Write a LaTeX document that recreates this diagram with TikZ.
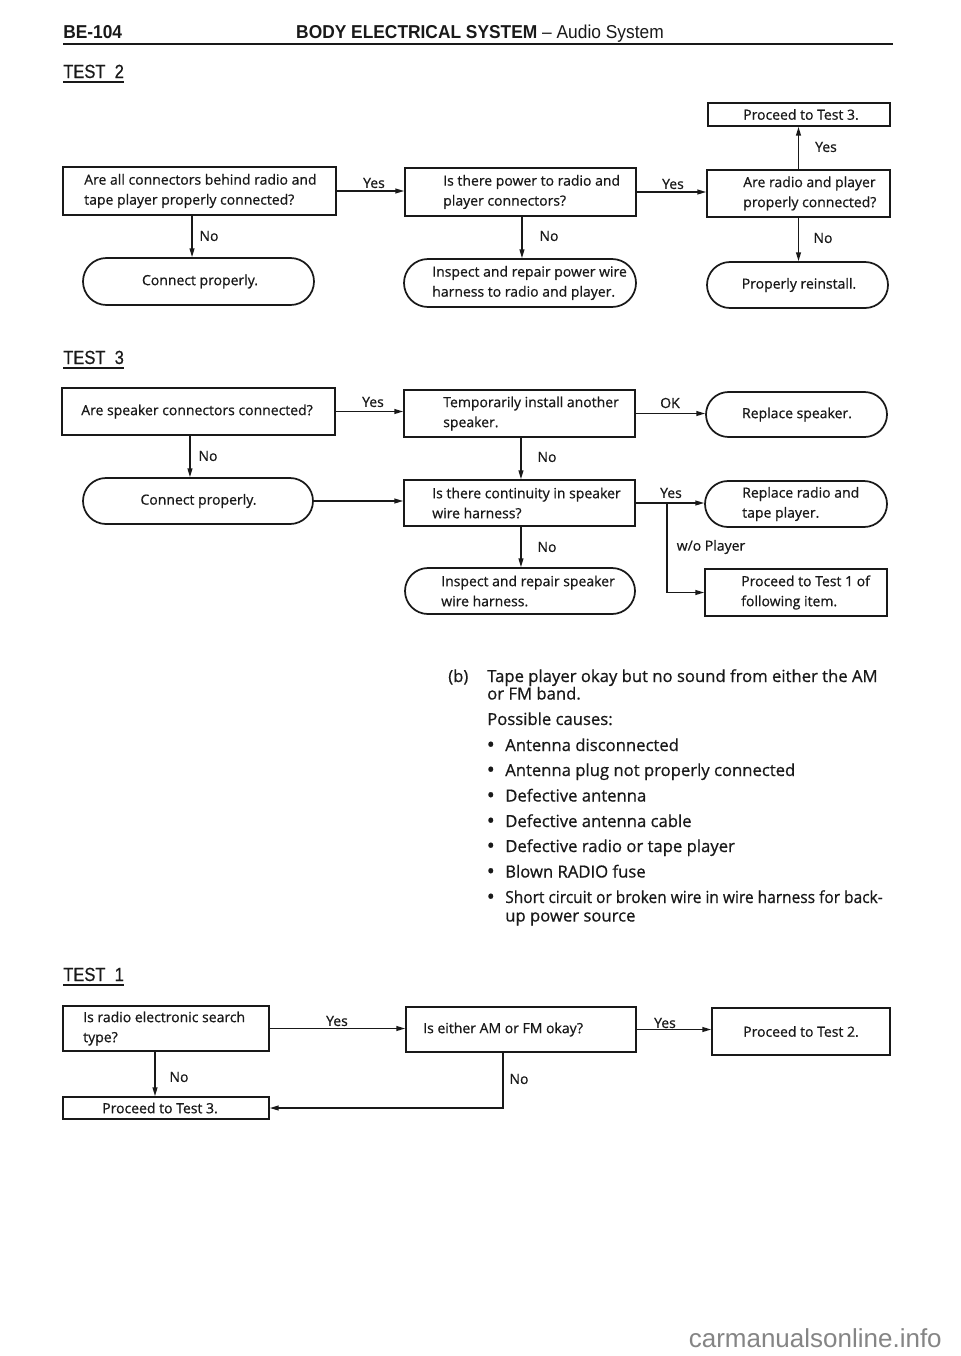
\documentclass[tikz,border=0pt]{standalone}
\usepackage{graphicx}
\usepackage{fontspec}
\setmainfont{Open Sans}[FakeBold=0.7]
\newfontfamily\condfont{Liberation Sans}[FakeStretch=0.87, FakeBold=0.5]
\newfontfamily\hdrfont{Liberation Sans}[FakeStretch=0.93]
\newfontfamily\wmfont{Liberation Sans}
\usetikzlibrary{arrows.meta,shapes.misc}
\definecolor{ink}{gray}{0.1}
\tikzset{
  box/.style={draw=ink, line width=1.3pt, rectangle, inner sep=0pt},
  term/.style={draw=ink, line width=1.3pt, rounded rectangle, inner sep=0pt},
  txt/.style={inner sep=0pt, align=left, text=ink, font=\fontsize{10.5pt}{15pt}\selectfont},
  lbl/.style={inner sep=0pt, text=ink, font=\fontsize{10.5pt}{15pt}\selectfont},
  arr/.style={draw=ink, line width=1pt, -{Triangle[length=6.5pt,width=3.6pt]}},
  body/.style={inner sep=0pt, anchor=base west, text=ink, font=\fontsize{12.5pt}{15pt}\selectfont},
  bul/.style={inner sep=0pt, anchor=base west, text=ink, font=\fontsize{16pt}{15pt}\selectfont},
  tst/.style={inner sep=0pt, anchor=base west, text=ink, font=\condfont\fontsize{14.25pt}{16pt}\selectfont},
  uline/.style={draw=ink, line width=1.3pt},
  hdr/.style={inner sep=0pt, text=ink, font=\hdrfont\bfseries\fontsize{14pt}{15pt}\selectfont},
}
\begin{document}
\begin{tikzpicture}[x=0.75pt,y=-0.75pt]
\useasboundingbox (0,0) rectangle (960,1356);
\fill[white] (0,0) rectangle (960,1356);

% ---------- header ----------
\node[hdr, anchor=base west] (pg) at (63,38) {BE-104};
\node[hdr, anchor=base] (ttl) at (480,38) {BODY ELECTRICAL SYSTEM {\mdseries – Audio System}};
\draw[ink, line width=2pt] (63,44) -- (893,44);

% ---------- TEST 2 ----------
\node[tst] (t2) at (63,78) {TEST\ \ 2};
\draw[uline] ([yshift=-3pt]t2.base west) -- ([yshift=-3pt]t2.base east);

\node[box, minimum width=204.75pt, minimum height=36pt] (a2) at (199.5,191) {};
\node[txt, anchor=west] (a2t) at (84,191) {Are all connectors behind radio and\\tape player properly connected?};
\node[box, minimum width=173.25pt, minimum height=36pt] (b2) at (520.5,192) {};
\node[txt, anchor=west] (b2t) at (443,192) {Is there power to radio and\\player connectors?};
\node[box, minimum width=137.25pt, minimum height=35.25pt] (c2) at (798.5,193.5) {};
\node[txt, anchor=west] (c2t) at (743,193.5) {Are radio and player\\properly connected?};
\node[box, minimum width=136.5pt, minimum height=17.25pt] (p3a) at (799,114.5) {};
\node[txt] (p3at) at (801,114.5) {Proceed to Test 3.};
\node[term, minimum width=173.25pt, minimum height=35.25pt] (ct2) at (198.5,281.5) {};
\node[txt] (ct2t) at (200,281.5) {Connect properly.};
\node[term, minimum width=174pt, minimum height=36pt] (ir2) at (520,283) {};
\node[txt, anchor=west] (ir2t) at (432,283) {Inspect and repair power wire\\harness to radio and player.};
\node[term, minimum width=135.75pt, minimum height=34.5pt] (pr2) at (797.5,285) {};
\node[txt] (pr2t) at (799,285) {Properly reinstall.};

\draw[arr] (a2.east) -- (a2.east -| b2.west);
\draw[arr] (b2.east) -- (b2.east -| c2.west);
\draw[arr] (c2.north) -- (c2.north |- p3a.south);
\draw[arr] ([xshift=-5.6pt]a2.south) -- ([xshift=-5.6pt]a2.south |- ct2.north);
\draw[arr] ([xshift=1.1pt]b2.south) -- ([xshift=1.1pt]b2.south |- ir2.north);
\draw[arr] (c2.south) -- (c2.south |- pr2.north);

\node[lbl] (y21) at (374,183) {Yes};
\node[lbl] (y22) at (673,184) {Yes};
\node[lbl] (y23) at (826,147) {Yes};
\node[lbl] (n21) at (209,236) {No};
\node[lbl] (n22) at (549,236) {No};
\node[lbl] (n23) at (823,238) {No};

% ---------- TEST 3 ----------
\node[tst] (t3) at (63,364) {TEST\ \ 3};
\draw[uline] ([yshift=-3pt]t3.base west) -- ([yshift=-3pt]t3.base east);

\node[box, minimum width=204.75pt, minimum height=35.25pt] (a3) at (198.5,411.5) {};
\node[txt] (a3t) at (197,411.5) {Are speaker connectors connected?};
\node[box, minimum width=173.25pt, minimum height=35.25pt] (tm) at (519.5,413.5) {};
\node[txt, anchor=west] (tmt) at (443,413.5) {Temporarily install another\\speaker.};
\node[term, minimum width=135.75pt, minimum height=33.75pt] (rs) at (796.5,414.5) {};
\node[txt] (rst) at (797,414.5) {Replace speaker.};
\node[term, minimum width=172.5pt, minimum height=34.5pt] (ct3) at (198,501) {};
\node[txt] (ct3t) at (198.5,501) {Connect properly.};
\node[box, minimum width=173.25pt, minimum height=34.5pt] (wh) at (519.5,503) {};
\node[txt, anchor=west] (wht) at (432,503) {Is there continuity in speaker\\wire harness?};
\node[term, minimum width=136.5pt, minimum height=34.5pt] (rr) at (796,504) {};
\node[txt, anchor=west] (rrt) at (742,504) {Replace radio and\\tape player.};
\node[box, minimum width=136.5pt, minimum height=35.25pt] (p1) at (796,592.5) {};
\node[txt, anchor=west] (p1t) at (741,592.5) {Proceed to Test 1 of\\following item.};
\node[term, minimum width=172.5pt, minimum height=34.5pt] (is) at (520,591) {};
\node[txt, anchor=west] (ist) at (441,591) {Inspect and repair speaker\\wire harness.};

\draw[arr] (a3.east) -- (a3.east -| tm.west);
\draw[arr] (tm.east) -- (tm.east -| rs.west);
\draw[arr] ([xshift=-6.4pt]a3.south) -- ([xshift=-6.4pt]a3.south |- ct3.north);
\draw[arr] (ct3.east) -- (ct3.east -| wh.west);
\draw[arr] ([xshift=1.1pt]tm.south) -- ([xshift=1.1pt]tm.south |- wh.north);
\draw[arr] (wh.east) -- (wh.east -| rr.west);
\coordinate (br) at (667,503);
\draw[arr] (br) |- (p1.west);
\draw[arr] ([xshift=1.1pt]wh.south) -- ([xshift=1.1pt]wh.south |- is.north);

\node[lbl] (y31) at (373,402) {Yes};
\node[lbl] (n31) at (208,456) {No};
\node[lbl] (ok3) at (670,403) {OK};
\node[lbl] (n32) at (547,457) {No};
\node[lbl] (y32) at (671,493) {Yes};
\node[lbl] (n33) at (547,547) {No};
\node[lbl] (wo3) at (711,547) {w/o Player};

% ---------- text block ----------
\node[body] (tb0) at (448,682) {(b)};
\node[body] (tb1) at (487,682) {Tape player okay but no sound from either the AM};
\node[body] (tb2) at (487,699.5) {or FM band.};
\node[body] (tb3) at (487,725) {Possible causes:};
\node[bul] (d1) at (486.5,752) {\textbullet};
\node[body] (c1) at (505,751) {Antenna disconnected};
\node[bul] (d2) at (486.5,777) {\textbullet};
\node[body] (c2l) at (505,776) {Antenna plug not properly connected};
\node[bul] (d3) at (486.5,802.5) {\textbullet};
\node[body] (c3) at (505,801.5) {Defective antenna};
\node[bul] (d4) at (486.5,828) {\textbullet};
\node[body] (c4) at (505,827) {Defective antenna cable};
\node[bul] (d5) at (486.5,853) {\textbullet};
\node[body] (c5) at (505,852) {Defective radio or tape player};
\node[bul] (d6) at (486.5,878.5) {\textbullet};
\node[body] (c6) at (505,877.5) {Blown RADIO fuse};
\node[bul] (d7) at (486.5,904) {\textbullet};
\node[body] (c7) at (505,903) {\scalebox{0.93}[1]{Short circuit or broken wire in wire harness for back-}};
\node[body] (c7b) at (505,921.5) {up power source};

% ---------- TEST 1 ----------
\node[tst] (t1) at (63,981) {TEST\ \ 1};
\draw[uline] ([yshift=-3pt]t1.base west) -- ([yshift=-3pt]t1.base east);

\node[box, minimum width=154.5pt, minimum height=33.75pt] (r1) at (166,1028.5) {};
\node[txt, anchor=west] (r1t) at (83,1028.5) {Is radio electronic search\\type?};
\node[box, minimum width=172.5pt, minimum height=33.75pt] (e1) at (521,1029.5) {};
\node[txt, anchor=west] (e1t) at (423,1029.5) {Is either AM or FM okay?};
\node[box, minimum width=133.5pt, minimum height=35.25pt] (p2) at (801,1031.5) {};
\node[txt] (p2t) at (801,1031.5) {Proceed to Test 2.};
\node[box, minimum width=154.5pt, minimum height=16.5pt] (p3b) at (166,1108) {};
\node[txt, anchor=west] (p3bt) at (102,1108) {Proceed to Test 3.};

\draw[arr] (r1.east) -- (r1.east -| e1.west);
\draw[arr] (e1.east) -- (e1.east -| p2.west);
\draw[arr] ([xshift=-8.25pt]r1.south) -- ([xshift=-8.25pt]r1.south |- p3b.north);
\draw[arr] ([xshift=-13.5pt]e1.south) |- (p3b.east);

\node[lbl] (y11) at (337,1021) {Yes};
\node[lbl] (y12) at (665,1023) {Yes};
\node[lbl] (n11) at (179,1077) {No};
\node[lbl] (n12) at (519,1079) {No};

% ---------- watermark ----------
\node[anchor=base east, inner sep=0pt, text=black!48, font=\wmfont\fontsize{19.5pt}{20pt}\selectfont] (wm) at (942,1347) {carmanualsonline.info};
\end{tikzpicture}
\end{document}
